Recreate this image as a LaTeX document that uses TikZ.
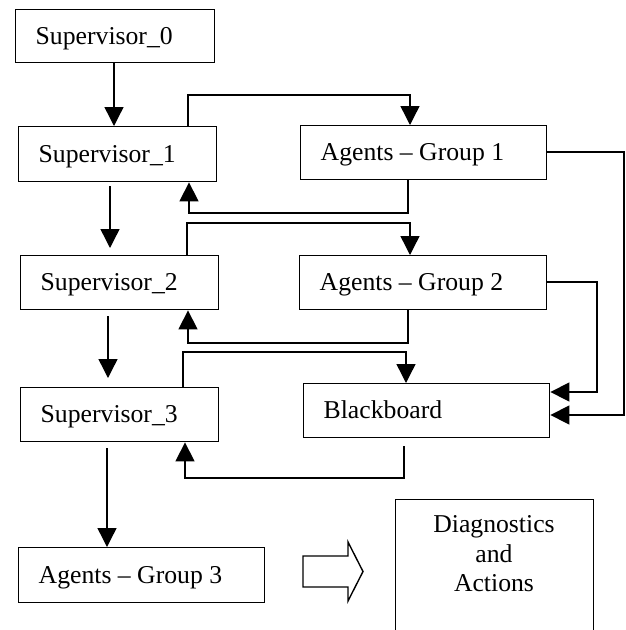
\documentclass[tikz,border=0pt]{standalone}
\usepackage{fontspec}
\setmainfont{Liberation Serif}
\usetikzlibrary{arrows.meta}
\begin{document}
\begin{tikzpicture}[x=1pt,y=-1pt,
  box/.style={draw, line width=1.4pt, rectangle, anchor=north west, inner xsep=20pt, inner ysep=0pt,
    align=flush left, text height=18pt, text depth=2pt, font=\fontsize{25.7}{29.5}\selectfont},
  arr/.style={line width=1.4pt, -{Triangle[width=19pt,length=19pt]}},
  line/.style={line width=1.4pt, line join=miter}]
\useasboundingbox (0,0) rectangle (626,630);
\clip (0,0) rectangle (626,630);

% boxes
\node[box, minimum width=199pt, minimum height=53pt, text width=159pt] (s0) at (15,9) {Supervisor\_0};
\node[box, minimum width=198pt, minimum height=55pt, text width=158pt] (s1) at (18,126) {Supervisor\_1};
\node[box, minimum width=246pt, minimum height=54pt, text width=206pt] (ag1) at (300,125) {Agents – Group 1};
\node[box, minimum width=198pt, minimum height=54pt, text width=158pt] (s2) at (20,255) {Supervisor\_2};
\node[box, minimum width=247pt, minimum height=54pt, text width=207pt] (ag2) at (299,255) {Agents – Group 2};
\node[box, minimum width=198pt, minimum height=54pt, text width=158pt] (s3) at (20,387) {Supervisor\_3};
\node[box, minimum width=246pt, minimum height=54pt, text width=206pt] (bb) at (303,383) {Blackboard};
\node[box, minimum width=246pt, minimum height=55pt, text width=206pt] (ag3) at (18,547) {Agents – Group 3};
\node[draw, line width=1.4pt, rectangle, anchor=north west, inner sep=0pt, minimum width=198pt, minimum height=150pt] (diag) at (395,499) {};
\node[anchor=north, align=center, inner sep=0pt, font=\fontsize{25.7}{29.5}\selectfont] (diagtxt) at (494,515.4) {Diagnostics\\and\\Actions};

% corner coordinates
\coordinate (v0) at (114,0);
\coordinate (k1) at (188,95);   \coordinate (k2) at (410,95);
\coordinate (k3) at (408,213);  \coordinate (k4) at (189,213);
\coordinate (v1) at (110,0);
\coordinate (k5) at (187,223);  \coordinate (k6) at (410,223);
\coordinate (k7) at (408,343);  \coordinate (k8) at (188,343);
\coordinate (v2) at (108,0);
\coordinate (k9) at (183,352);  \coordinate (k10) at (406,352);
\coordinate (k11) at (404,478); \coordinate (k12) at (185,478);
\coordinate (v3) at (107,0);
\coordinate (r1) at (624,152);  \coordinate (r2) at (624,415);
\coordinate (r3) at (597,282);  \coordinate (r4) at (597,392);

% vertical chain
\draw[arr] (s0.south -| v0) -- (s1.north -| v0);
\draw[arr, shorten <=4pt, shorten >=7pt] (s1.south -| v1) -- (s2.north -| v1);
\draw[arr, shorten <=6pt, shorten >=9pt] (s2.south -| v2) -- (s3.north -| v2);
\draw[arr, shorten <=6pt] (s3.south -| v3) -- (ag3.north -| v3);

% supervisor <-> agents loops
\draw[arr, line] (s1.north -| k1) -- (k1) -- (k2) -- (ag1.north -| k2);
\draw[arr, line] (ag1.south -| k3) -- (k3) -- (k4) -- (s1.south -| k4);
\draw[arr, line] (s2.north -| k5) -- (k5) -- (k6) -- (ag2.north -| k6);
\draw[arr, line] (ag2.south -| k7) -- (k7) -- (k8) -- (s2.south -| k8);
\draw[arr, line] (s3.north -| k9) -- (k9) -- (k10) -- (bb.north -| k10);
\draw[arr, line, shorten <=8pt] (bb.south -| k11) -- (k11) -- (k12) -- (s3.south -| k12);

% agents -> blackboard
\draw[arr, line] (ag1.east |- r1) -- (r1) -- (r2) -- (bb.east |- r2);
\draw[arr, line] (ag2.east |- r3) -- (r3) -- (r4) -- (bb.east |- r4);

% block arrow
\draw[line width=1.4pt, line join=miter] (303,556) -- (348,556) -- (348,542) -- (363,571.5) -- (348,601) -- (348,587) -- (303,587) -- cycle;
\end{tikzpicture}
\end{document}
